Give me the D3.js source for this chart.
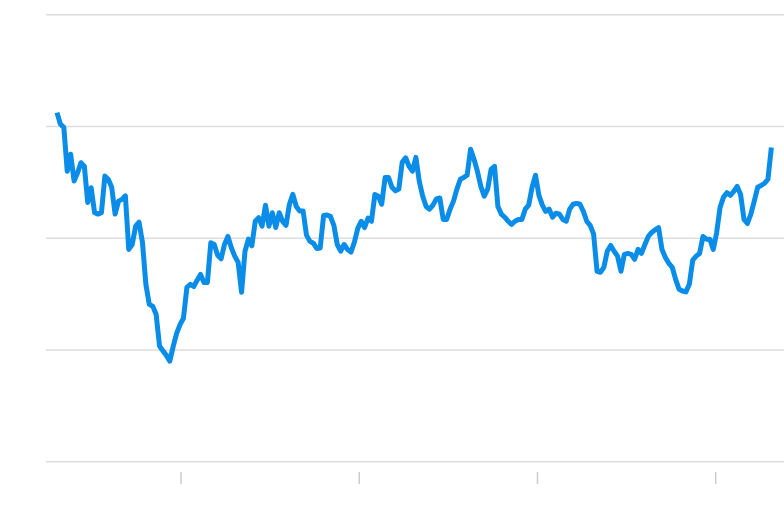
<!DOCTYPE html>
<html>
<head>
<meta charset="utf-8">
<script src="https://cdn.jsdelivr.net/npm/d3@7"></script>
<style>
  html, body { margin: 0; padding: 0; background: #ffffff; }
  svg { display: block; }
</style>
</head>
<body>
<svg id="chart" width="784" height="518"></svg>
<script>
// ---- data ----
const startDate = "2020-04-23";          // first weekly observation
const weekIndex = d3.range(0, 210);      // weekly observations
const values = [
  78.0, 75.4, 74.7, 64.9, 68.7, 62.7, 64.5, 66.8, 66.0, 57.9,
  61.2, 55.6, 55.3, 55.6, 63.8, 63.1, 61.3, 55.3, 58.2, 58.6,
  59.4, 47.4, 48.5, 52.6, 53.5, 49.0, 39.6, 35.1, 34.7, 32.9,
  25.8, 24.7, 23.7, 22.4, 25.7, 28.6, 30.6, 32.0, 38.9, 39.6,
  39.1, 40.5, 41.8, 40.0, 40.0, 48.9, 48.5, 46.1, 45.3, 48.5,
  50.3, 47.8, 45.9, 44.5, 37.8, 47.0, 49.7, 48.2, 53.7, 54.5,
  52.6, 57.3, 52.6, 55.6, 52.3, 55.6, 53.7, 52.8, 57.5, 59.7,
  57.0, 56.0, 56.0, 50.6, 49.2, 48.8, 47.6, 47.7, 55.0, 55.1,
  54.8, 52.8, 48.5, 47.0, 48.5, 47.4, 46.8, 49.0, 52.1, 53.7,
  52.3, 54.4, 53.7, 59.7, 59.3, 57.5, 63.5, 63.5, 61.3, 60.5,
  60.9, 66.9, 67.9, 66.0, 64.9, 68.0, 62.6, 59.3, 57.0, 56.4,
  57.3, 58.7, 58.9, 54.1, 54.1, 56.4, 58.2, 60.9, 63.1, 63.5,
  64.0, 69.8, 67.6, 64.9, 61.5, 59.3, 60.9, 65.3, 66.0, 57.0,
  55.3, 54.6, 53.7, 53.0, 53.7, 54.1, 54.1, 56.4, 57.3, 61.3,
  64.0, 59.5, 57.3, 55.9, 56.4, 54.6, 55.5, 55.3, 54.1, 53.7,
  56.4, 57.5, 57.7, 57.5, 55.9, 53.7, 52.8, 50.8, 42.5, 42.3,
  43.4, 47.0, 48.3, 47.0, 45.9, 42.5, 46.3, 46.5, 46.3, 45.2,
  47.4, 46.5, 48.5, 50.3, 51.2, 51.8, 52.3, 47.4, 45.6, 44.3,
  43.4, 40.7, 38.5, 38.1, 37.9, 39.6, 45.0, 45.9, 46.5, 50.3,
  49.7, 49.7, 47.4, 51.2, 56.8, 59.1, 60.1, 59.5, 60.4, 61.5,
  59.7, 54.1, 53.2, 55.3, 58.2, 61.3, 61.7, 62.2, 63.1, 70.2
];
const yTicks = [0, 25, 50, 75, 100];
const xTickYears = [2021, 2022, 2023, 2024];

// ---- build ----
const parse = d3.utcParse("%Y-%m-%d");
const t0 = parse(startDate);
const data = weekIndex.map((i, k) => ({ date: d3.utcDay.offset(t0, 7 * i), value: values[k] }));

const svg = d3.select("#chart");

const x = d3.scaleUtc()
  .domain([t0, new Date(Date.UTC(2024, 0, 1))])
  .range([57, 715.2]);

const y = d3.scaleLinear()
  .domain([0, 100])
  .range([461.3, 14.3]);

// horizontal gridlines
const grid = d3.axisLeft(y).tickValues(yTicks).tickSize(-(784 - 46)).tickFormat("");
svg.append("g")
  .attr("transform", "translate(46,0)")
  .call(grid)
  .call(g => g.select(".domain").remove())
  .call(g => g.selectAll("line").attr("stroke", "#dddddd").attr("stroke-width", 1.6));

// bottom year ticks
const xAxis = d3.axisBottom(x)
  .tickValues(xTickYears.map(yr => new Date(Date.UTC(yr, 0, 1))))
  .tickSize(12)
  .tickFormat("");
svg.append("g")
  .attr("transform", "translate(0,472)")
  .call(xAxis)
  .call(g => g.select(".domain").remove())
  .call(g => g.selectAll("line").attr("stroke", "#cccccc").attr("stroke-width", 1.5));

// the series line
const line = d3.line()
  .x(d => x(d.date))
  .y(d => y(d.value));

svg.append("path")
  .datum(data)
  .attr("fill", "none")
  .attr("stroke", "#0a8de8")
  .attr("stroke-width", 5)
  .attr("stroke-linejoin", "round")
  .attr("stroke-linecap", "butt")
  .attr("d", line);
</script>
</body>
</html>
